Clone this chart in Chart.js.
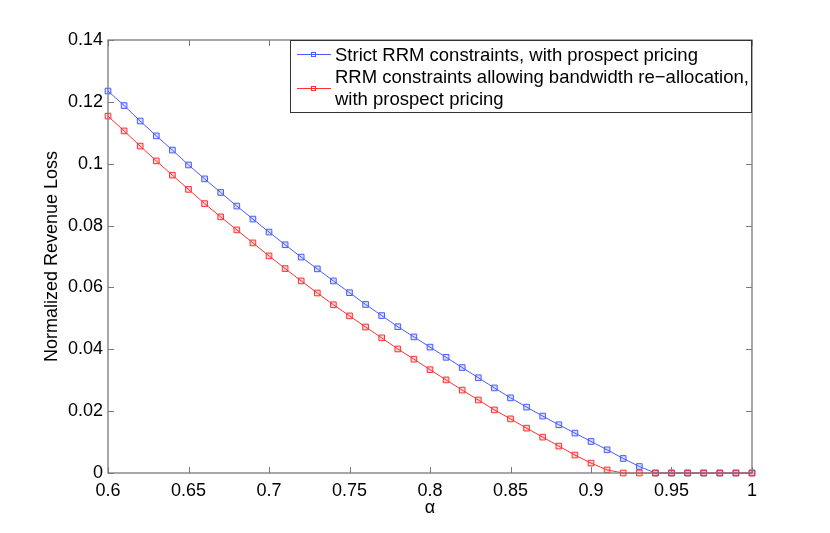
<!DOCTYPE html>
<html lang="en">
<head>
<meta charset="UTF-8">
<title>Normalized Revenue Loss vs alpha</title>
<script src="https://cdn.jsdelivr.net/npm/chart.js"></script>
<style>
  html, body { margin: 0; padding: 0; background: #fff; }
  #wrap { width: 830px; height: 533px; }
</style>
</head>
<body>
<div id="wrap"><canvas id="chart" width="830" height="533"></canvas></div>
<script>
// alpha values 0.60 .. 1.00
const alpha = [0.60, 0.61, 0.62, 0.63, 0.64, 0.65, 0.66, 0.67, 0.68, 0.69,
               0.70, 0.71, 0.72, 0.73, 0.74, 0.75, 0.76, 0.77, 0.78, 0.79,
               0.80, 0.81, 0.82, 0.83, 0.84, 0.85, 0.86, 0.87, 0.88, 0.89,
               0.90, 0.91, 0.92, 0.93, 0.94, 0.95, 0.96, 0.97, 0.98, 0.99, 1.00];

const strictLoss = [0.1235, 0.1188, 0.1138, 0.1090, 0.1044, 0.0996, 0.0951, 0.0907, 0.0863, 0.0821,
                    0.0779, 0.0738, 0.0698, 0.0660, 0.0621, 0.0583, 0.0545, 0.0509, 0.0473, 0.0440,
                    0.0407, 0.0374, 0.0341, 0.0308, 0.0275, 0.0243, 0.0213, 0.0184, 0.0156, 0.0129,
                    0.0102, 0.0075, 0.0047, 0.0021, 0.0000, 0.0000, 0.0000, 0.0000, 0.0000, 0.0000, 0.0000];

const reallocLoss = [0.1154, 0.1106, 0.1057, 0.1009, 0.0963, 0.0917, 0.0871, 0.0828, 0.0786, 0.0744,
                     0.0702, 0.0661, 0.0621, 0.0582, 0.0544, 0.0508, 0.0472, 0.0437, 0.0401, 0.0368,
                     0.0334, 0.0301, 0.0268, 0.0236, 0.0204, 0.0175, 0.0145, 0.0116, 0.0087, 0.0058,
                     0.0032, 0.0010, 0.0000, 0.0000, 0.0000, 0.0000, 0.0000, 0.0000, 0.0000, 0.0000, 0.0000];

const xTicks = [0.6, 0.65, 0.7, 0.75, 0.8, 0.85, 0.9, 0.95, 1];
const yTicks = [0, 0.02, 0.04, 0.06, 0.08, 0.1, 0.12, 0.14];

const seriesNames = ['Strict RRM constraints, with prospect pricing',
                     ['RRM constraints allowing bandwidth re\u2212allocation,', 'with prospect pricing']];

const BLUE = 'rgb(72, 92, 255)';
const RED = 'rgb(255, 48, 48)';
const FONT = '"Liberation Sans", Arial, Helvetica, sans-serif';
const AXIS = '#7a7a7a';

function pairs(xs, ys) { return xs.map((x, i) => ({ x: x, y: ys[i] })); }

// box round the plot, with inward ticks on all four sides
const boxTicks = {
  id: 'boxTicks',
  afterDatasetsDraw(chart) {
    const { ctx, chartArea: a, scales: { x, y } } = chart;
    const len = 6;
    ctx.save();
    ctx.strokeStyle = AXIS;
    ctx.lineWidth = 1.3;
    ctx.strokeRect(a.left, a.top, a.right - a.left, a.bottom - a.top);
    ctx.lineWidth = 1;
    ctx.beginPath();
    xTicks.forEach(v => {
      const px = Math.round(x.getPixelForValue(v)) + 0.5;
      ctx.moveTo(px, a.bottom); ctx.lineTo(px, a.bottom - len);
      ctx.moveTo(px, a.top); ctx.lineTo(px, a.top + len);
    });
    yTicks.forEach(v => {
      const py = Math.round(y.getPixelForValue(v)) + 0.5;
      ctx.moveTo(a.left, py); ctx.lineTo(a.left + len, py);
      ctx.moveTo(a.right, py); ctx.lineTo(a.right - len, py);
    });
    ctx.stroke();
    ctx.restore();
  }
};

// MATLAB-like legend box in the upper right corner
const boxLegend = {
  id: 'boxLegend',
  afterDraw(chart) {
    const { ctx, chartArea: a } = chart;
    const left = 290, top = a.top, right = a.right, bottom = 113;
    ctx.save();
    ctx.fillStyle = '#fff';
    ctx.fillRect(left, top, right - left, bottom - top);
    ctx.strokeStyle = '#333';
    ctx.lineWidth = 1;
    ctx.strokeRect(left + 0.5, top + 0.5, right - left - 1, bottom - top - 1);

    const rows = [
      { color: BLUE, lineY: 54, lines: [seriesNames[0]], baselines: [61] },
      { color: RED, lineY: 88, lines: seriesNames[1], baselines: [83, 105] }
    ];
    ctx.font = '18.5px ' + FONT;
    ctx.textAlign = 'left';
    ctx.textBaseline = 'alphabetic';
    rows.forEach(r => {
      ctx.strokeStyle = r.color;
      ctx.beginPath();
      ctx.moveTo(297, r.lineY + 0.5); ctx.lineTo(331, r.lineY + 0.5);
      ctx.stroke();
      ctx.strokeRect(311.5, r.lineY - 1.5, 4, 4);
      ctx.fillStyle = '#000';
      r.lines.forEach((t, i) => ctx.fillText(t, 335, r.baselines[i]));
    });
    ctx.restore();
  }
};

const ctx = document.getElementById('chart').getContext('2d');
const chart = new Chart(ctx, {
  type: 'line',
  data: {
    datasets: [
      {
        label: 'Strict RRM constraints, with prospect pricing',
        data: pairs(alpha, strictLoss),
        borderColor: BLUE,
        backgroundColor: 'rgba(72, 92, 255, 0.2)',
        borderWidth: 1,
        pointStyle: 'rect',
        pointRadius: 4,
        pointBorderWidth: 1,
        tension: 0,
        clip: false,
        order: 2
      },
      {
        label: 'RRM constraints allowing bandwidth re-allocation, with prospect pricing',
        data: pairs(alpha, reallocLoss),
        borderColor: RED,
        backgroundColor: 'rgba(255, 48, 48, 0.2)',
        borderWidth: 1,
        pointStyle: 'rect',
        pointRadius: 4,
        pointBorderWidth: 1,
        tension: 0,
        clip: false,
        order: 1
      }
    ]
  },
  options: {
    responsive: false,
    animation: false,
    layout: { padding: { left: 0, top: 40, right: 78, bottom: 0 } },
    plugins: { legend: { display: false }, tooltip: { enabled: false } },
    scales: {
      x: {
        type: 'linear',
        min: 0.6,
        max: 1,
        afterBuildTicks: s => { s.ticks = xTicks.map(v => ({ value: v })); },
        afterFit: s => { s.height = 60; },
        grid: { display: false, drawTicks: false },
        border: { display: false },
        ticks: {
          padding: 7,
          color: '#000',
          font: { family: FONT, size: 18 },
          maxRotation: 0,
          callback: v => String(+v.toFixed(2))
        },
        title: {
          display: true,
          text: '\u03b1',
          color: '#000',
          font: { family: FONT, size: 18 },
          padding: { top: 0, bottom: 14 }
        }
      },
      y: {
        min: 0,
        max: 0.14,
        afterBuildTicks: s => { s.ticks = yTicks.map(v => ({ value: v })); },
        afterFit: s => { s.width = 108; },
        grid: { display: false, drawTicks: false },
        border: { display: false },
        ticks: {
          padding: 5,
          color: '#000',
          font: { family: FONT, size: 18 },
          callback: v => String(+v.toFixed(2))
        },
        title: {
          display: true,
          text: 'Normalized Revenue Loss',
          color: '#000',
          font: { family: FONT, size: 18 },
          padding: { top: 41, bottom: 0 }
        }
      }
    }
  },
  plugins: [boxTicks, boxLegend]
});
</script>
</body>
</html>
